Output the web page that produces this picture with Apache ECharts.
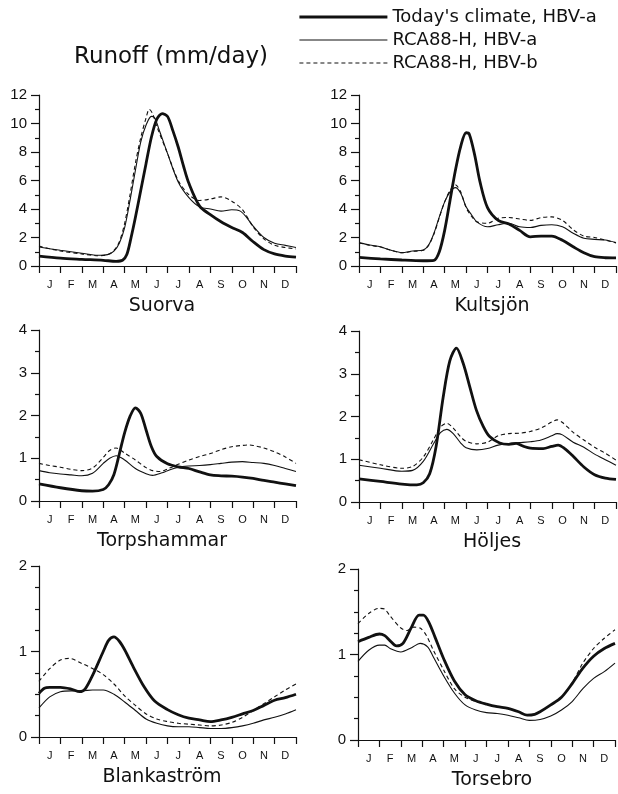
<!DOCTYPE html>
<html>
<head>
<meta charset="utf-8">
<script src="https://cdn.jsdelivr.net/npm/echarts@6/dist/echarts.min.js"></script>
<style>html,body{margin:0;background:#fff}#main{width:618px;height:794px}</style>
</head>
<body>
<div id="main"></div>
<script>
var months = ['J', 'F', 'M', 'A', 'M', 'J', 'J', 'A', 'S', 'O', 'N', 'D'];
var seriesNames = ["Today's climate, HBV-a", 'RCA88-H, HBV-a', 'RCA88-H, HBV-b'];
var stations = ['Suorva', 'Kultsjön', 'Torpshammar', 'Höljes', 'Blankaström', 'Torsebro'];
var yMax = [12, 12, 4, 4, 2, 2];
var yStep = [2, 2, 1, 1, 1, 1];
var yMinor = [2, 2, 2, 2, 4, 4];

// [month (0 = 1 Jan, 12 = 31 Dec), runoff mm/day]
var suorvaToday = [[0,0.7],[1,0.55],[2,0.47],[3,0.4],[3.6,0.33],[3.9,0.4],[4.1,0.8],[4.3,2.0],[4.5,3.4],[4.75,5.3],[5,7.2],[5.25,9.05],[5.5,10.3],[5.75,10.7],[6,10.5],[6.25,9.5],[6.5,8.35],[6.75,7.0],[7,5.8],[7.5,4.2],[8,3.6],[8.5,3.1],[9,2.7],[9.5,2.35],[10,1.7],[10.5,1.15],[11,0.85],[11.5,0.7],[12,0.62]];
var suorvaA = [[0,1.33],[1,1.1],[2,0.9],[2.75,0.75],[3.2,0.8],[3.5,1.05],[3.75,1.6],[4,2.7],[4.25,4.6],[4.5,6.7],[4.75,8.7],[5,9.9],[5.25,10.5],[5.4,10.4],[5.6,9.6],[6,7.9],[6.5,5.9],[7,4.8],[7.5,4.15],[8,4.0],[8.5,3.85],[9,3.95],[9.4,3.85],[9.7,3.4],[10,2.8],[10.5,2.0],[11,1.6],[11.5,1.45],[12,1.3]];
var suorvaB = [[0,1.4],[1,1.05],[2,0.85],[2.75,0.72],[3.2,0.8],[3.5,1.1],[3.75,1.7],[4,3.0],[4.25,5.0],[4.5,7.2],[4.75,9.0],[5,10.4],[5.15,11.0],[5.3,10.7],[5.5,9.8],[6,7.9],[6.5,6.0],[7,5.0],[7.5,4.6],[8,4.7],[8.5,4.85],[9,4.55],[9.5,3.95],[10,2.75],[10.5,1.9],[11,1.45],[11.5,1.3],[12,1.2]];

var kultsjonToday = [[0,0.6],[1,0.5],[2,0.42],[3,0.37],[3.5,0.4],[3.75,1.0],[4,2.5],[4.25,4.6],[4.5,6.7],[4.75,8.4],[5,9.35],[5.15,9.25],[5.4,7.8],[5.65,5.9],[6,4.1],[6.5,3.2],[7,2.95],[7.5,2.5],[8,2.05],[8.5,2.1],[9,2.1],[9.5,1.8],[10,1.35],[10.5,0.93],[11,0.65],[11.5,0.58],[12,0.57]];
var kultsjonA = [[0,1.64],[0.5,1.47],[1,1.35],[1.5,1.1],[2,0.94],[2.5,1.05],[3,1.12],[3.25,1.47],[3.5,2.3],[3.75,3.45],[4,4.5],[4.25,5.2],[4.5,5.5],[4.75,5.1],[5,4.15],[5.25,3.6],[5.5,3.1],[6,2.75],[6.5,2.9],[7,3.0],[7.5,2.75],[8,2.7],[8.5,2.85],[9,2.9],[9.5,2.75],[10,2.3],[10.5,1.95],[11,1.87],[11.5,1.82],[12,1.64]];
var kultsjonB = [[0,1.62],[0.5,1.45],[1,1.33],[1.5,1.1],[2,0.93],[2.5,1.03],[3,1.1],[3.25,1.45],[3.5,2.25],[3.75,3.4],[4,4.5],[4.25,5.3],[4.5,5.7],[4.75,5.2],[5,4.1],[5.25,3.5],[5.5,3.1],[6,3.0],[6.5,3.35],[7,3.4],[7.5,3.3],[8,3.2],[8.5,3.4],[9,3.45],[9.5,3.2],[10,2.55],[10.5,2.1],[11,2.0],[11.5,1.82],[12,1.62]];

var torpToday = [[0,0.4],[1,0.31],[2,0.24],[2.5,0.23],[3,0.27],[3.25,0.38],[3.5,0.62],[3.75,1.1],[4,1.6],[4.25,1.98],[4.5,2.18],[4.75,2.05],[5,1.66],[5.25,1.27],[5.5,1.04],[6,0.87],[6.5,0.8],[7,0.76],[7.5,0.68],[8,0.61],[8.5,0.59],[9,0.58],[9.5,0.56],[10,0.53],[10.5,0.48],[11,0.44],[11.5,0.4],[12,0.36]];
var torpA = [[0,0.71],[0.5,0.66],[1,0.63],[1.5,0.61],[2,0.59],[2.5,0.65],[3,0.88],[3.3,1.0],[3.6,1.06],[4,0.96],[4.5,0.76],[5,0.64],[5.3,0.6],[5.75,0.66],[6,0.71],[6.5,0.79],[7,0.82],[7.5,0.83],[8,0.85],[8.5,0.88],[9,0.91],[9.5,0.92],[10,0.9],[10.5,0.88],[11,0.83],[11.5,0.76],[12,0.69]];
var torpB = [[0,0.88],[0.5,0.83],[1,0.79],[1.5,0.74],[2,0.71],[2.5,0.77],[3,1.02],[3.3,1.18],[3.6,1.24],[4,1.12],[4.5,0.96],[5,0.78],[5.3,0.71],[5.65,0.69],[6,0.75],[6.5,0.86],[7,0.96],[7.5,1.04],[8,1.11],[8.5,1.2],[9,1.27],[9.5,1.3],[9.8,1.31],[10,1.3],[10.5,1.24],[11,1.15],[11.5,1.03],[12,0.88]];

var holjesToday = [[0,0.54],[1,0.48],[2,0.42],[2.7,0.4],[3,0.45],[3.3,0.66],[3.6,1.3],[3.93,2.45],[4.24,3.3],[4.55,3.6],[4.86,3.25],[5.17,2.7],[5.48,2.15],[5.8,1.77],[6.1,1.53],[6.57,1.38],[7,1.35],[7.34,1.37],[7.7,1.3],[8,1.26],[8.6,1.25],[9,1.3],[9.3,1.33],[9.6,1.25],[10,1.07],[10.5,0.82],[11,0.64],[11.5,0.56],[12,0.53]];
var holjesA = [[0,0.86],[1,0.79],[2,0.72],[2.5,0.74],[3,0.95],[3.5,1.38],[3.8,1.62],[4.1,1.7],[4.4,1.6],[4.75,1.38],[5,1.27],[5.5,1.22],[6,1.25],[6.5,1.33],[7,1.37],[7.5,1.39],[8,1.41],[8.5,1.45],[9,1.55],[9.25,1.6],[9.5,1.57],[10,1.4],[10.5,1.28],[11,1.12],[11.5,0.99],[12,0.86]];
var holjesB = [[0,0.99],[1,0.87],[2,0.79],[2.5,0.83],[3,1.05],[3.5,1.48],[3.8,1.75],[4.1,1.84],[4.4,1.73],[4.75,1.52],[5,1.42],[5.5,1.36],[6,1.4],[6.5,1.55],[7,1.6],[7.5,1.61],[8,1.65],[8.5,1.73],[9,1.87],[9.25,1.92],[9.5,1.86],[10,1.63],[10.5,1.45],[11,1.28],[11.5,1.14],[12,0.98]];

var blankToday = [[0,0.51],[0.25,0.57],[0.5,0.58],[1,0.58],[1.5,0.56],[1.9,0.53],[2.15,0.56],[2.5,0.72],[3,1.0],[3.25,1.13],[3.5,1.17],[3.75,1.12],[4,1.02],[4.4,0.82],[4.9,0.59],[5.4,0.42],[6,0.32],[6.5,0.26],[7,0.22],[7.5,0.2],[8,0.18],[8.5,0.2],[9,0.23],[9.5,0.27],[10,0.31],[10.5,0.37],[11,0.43],[11.5,0.46],[12,0.5]];
var blankA = [[0,0.34],[0.5,0.47],[1,0.53],[1.5,0.54],[2,0.54],[2.5,0.55],[3,0.55],[3.5,0.5],[4,0.41],[4.5,0.31],[5,0.21],[5.5,0.16],[6,0.13],[6.5,0.12],[7,0.12],[7.5,0.11],[8,0.1],[8.5,0.1],[9,0.11],[9.5,0.13],[10,0.16],[10.5,0.2],[11,0.23],[11.5,0.27],[12,0.32]];
var blankB = [[0,0.65],[0.5,0.8],[1,0.9],[1.4,0.92],[2,0.86],[2.5,0.8],[3,0.73],[3.5,0.62],[4,0.48],[4.5,0.37],[5,0.27],[5.5,0.21],[6,0.18],[6.5,0.16],[7,0.15],[7.5,0.14],[8,0.13],[8.5,0.14],[9,0.17],[9.5,0.23],[10,0.31],[10.5,0.39],[11,0.47],[11.5,0.55],[12,0.62]];

var torsToday = [[0,1.15],[0.5,1.2],[1,1.24],[1.25,1.22],[1.5,1.16],[1.8,1.1],[2.1,1.13],[2.5,1.32],[2.85,1.46],[3.05,1.46],[3.3,1.38],[3.6,1.2],[4,0.95],[4.5,0.69],[5,0.53],[5.5,0.46],[6,0.42],[6.5,0.39],[7,0.37],[7.5,0.33],[7.9,0.29],[8.25,0.3],[8.5,0.33],[9,0.41],[9.5,0.5],[10,0.66],[10.5,0.84],[11,0.98],[11.5,1.07],[12,1.13]];
var torsA = [[0,0.92],[0.5,1.05],[1,1.11],[1.25,1.11],[1.5,1.07],[2,1.03],[2.5,1.08],[2.9,1.13],[3.25,1.09],[3.5,0.98],[4,0.75],[4.5,0.55],[5,0.41],[5.5,0.35],[6,0.32],[6.5,0.31],[7,0.29],[7.5,0.26],[8,0.23],[8.5,0.24],[9,0.28],[9.5,0.35],[10,0.45],[10.5,0.6],[11,0.72],[11.5,0.8],[12,0.9]];
var torsB = [[0,1.36],[0.5,1.48],[1,1.54],[1.25,1.53],[1.5,1.45],[2,1.31],[2.3,1.28],[2.6,1.32],[2.9,1.31],[3.2,1.22],[3.5,1.06],[4,0.82],[4.5,0.6],[5,0.5],[5.5,0.45],[6,0.42],[6.5,0.39],[7,0.37],[7.5,0.33],[8,0.29],[8.5,0.33],[9,0.41],[9.5,0.5],[10,0.67],[10.5,0.9],[11,1.07],[11.5,1.19],[12,1.29]];

var runoff = [
    [suorvaToday, suorvaA, suorvaB],
    [kultsjonToday, kultsjonA, kultsjonB],
    [torpToday, torpA, torpB],
    [holjesToday, holjesA, holjesB],
    [blankToday, blankA, blankB],
    [torsToday, torsA, torsB]
];

// plot boxes: left, top (px)
var boxes = [[39, 95], [359, 95], [39, 330], [359, 331], [39, 566], [358, 569]];
var boxW = 257, boxH = 171;
var ink = '#111';
var font = 'Liberation Sans';
var wideFont = 'DejaVu Sans';
var lineStyles = [
    { color: ink, width: 2.8, type: 'solid' },
    { color: ink, width: 1.1, type: 'solid' },
    { color: ink, width: 1.1, type: [4, 3] }
];

var myChart = echarts.init(document.getElementById('main'));

var grids = [], xAxes = [], yAxes = [], series = [], texts = [];
boxes.forEach(function (b, i) {
    grids.push({ left: b[0], top: b[1], width: boxW, height: boxH });
    xAxes.push({
        type: 'value', gridIndex: i, position: 'bottom', min: 0, max: 12, interval: 1,
        axisLine: { show: true, onZero: false, lineStyle: { color: ink, width: 1.2 } },
        axisTick: { show: true, length: 7, lineStyle: { color: ink, width: 1.2 } },
        axisLabel: { show: false },
        splitLine: { show: false }
    });
    xAxes.push({
        type: 'category', gridIndex: i, position: 'bottom', data: months, boundaryGap: true,
        axisLine: { show: false }, axisTick: { show: false },
        axisLabel: { interval: 0, color: ink, fontSize: 11, fontFamily: font, margin: 13 },
        splitLine: { show: false }
    });
    yAxes.push({
        type: 'value', gridIndex: i, min: 0, max: yMax[i], interval: yStep[i],
        axisLine: { show: true, lineStyle: { color: ink, width: 1.2 } },
        axisTick: { show: true, length: 8, lineStyle: { color: ink, width: 1.2 } },
        minorTick: { show: true, splitNumber: yMinor[i], length: 4, lineStyle: { color: ink, width: 1.2 } },
        axisLabel: { color: ink, fontSize: 15, fontFamily: font, margin: 12 },
        splitLine: { show: false }, minorSplitLine: { show: false }
    });
    runoff[i].forEach(function (d, k) {
        series.push({
            name: seriesNames[k], type: 'line', xAxisIndex: i * 2, yAxisIndex: i,
            data: d, symbol: 'none', smooth: 0.3, color: ink, lineStyle: lineStyles[k], z: 3 - k
        });
    });
    texts.push({
        type: 'text', x: i % 2 === 0 ? 162 : 492, y: b[1] + boxH + 40,
        style: { text: stations[i], fill: ink, font: '19px "' + wideFont + '"', textAlign: 'center', textVerticalAlign: 'middle' }
    });
});

texts.push({
    type: 'text', x: 171, y: 57,
    style: { text: 'Runoff (mm/day)', fill: ink, font: '23px "' + wideFont + '"', textAlign: 'center', textVerticalAlign: 'middle' }
});

var option = {
    animation: false,
    backgroundColor: '#fff',
    legend: {
        orient: 'vertical', left: 298, top: 8, padding: 0,
        itemWidth: 88, itemHeight: 18, itemGap: 5,
        selectedMode: false, data: seriesNames,
        itemStyle: { opacity: 0 },
        lineStyle: { width: 'inherit' },
        textStyle: { color: ink, fontSize: 18, fontFamily: wideFont }
    },
    grid: grids,
    xAxis: xAxes,
    yAxis: yAxes,
    series: series,
    graphic: texts
};

myChart.setOption(option);
</script>
</body>
</html>
